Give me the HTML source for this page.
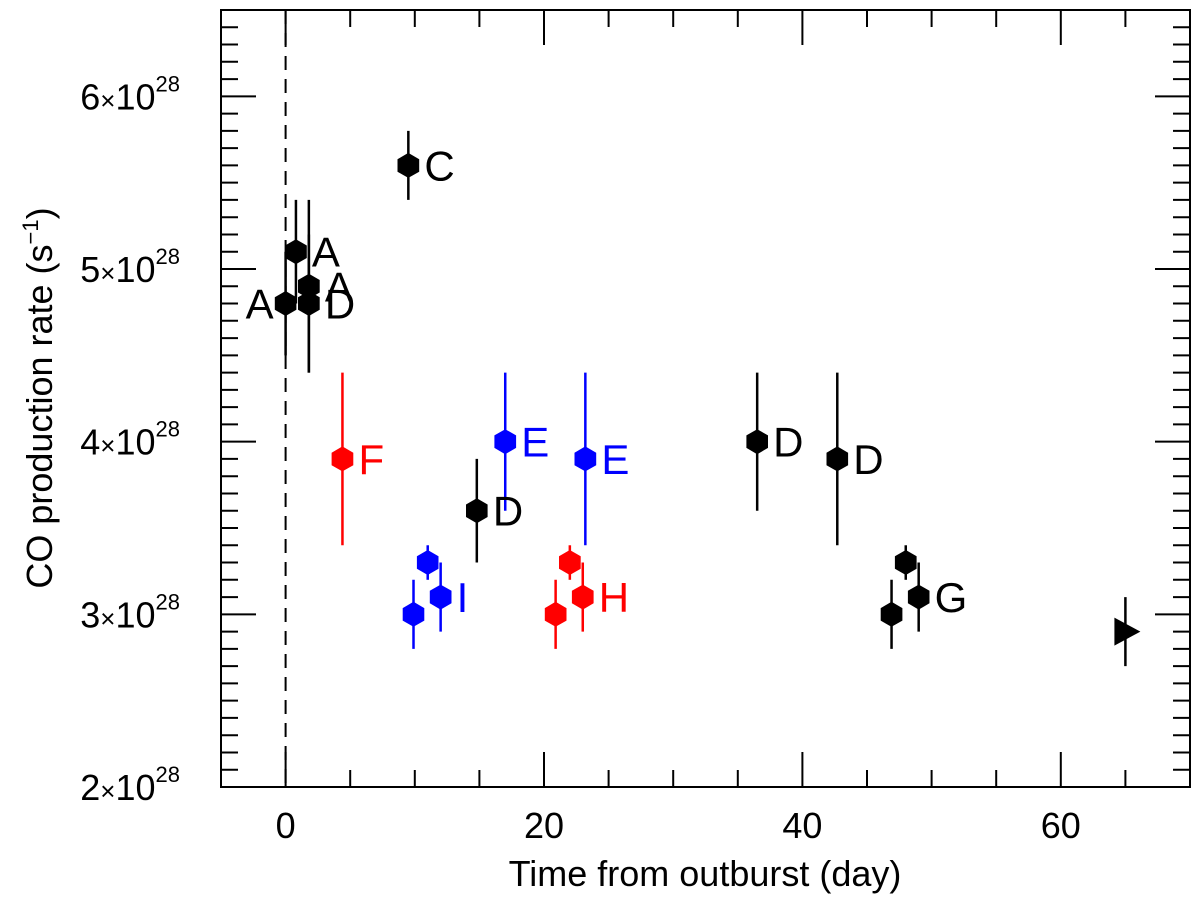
<!DOCTYPE html>
<html><head><meta charset="utf-8"><style>
body{margin:0;background:#fff}
svg{font-family:"Liberation Sans",sans-serif}
</style></head><body>
<svg id="c" width="1200" height="900"></svg>
<script>
const days=[0,0.8,1.8,1.8,9.5,4.4,17,23.2,14.8,11,9.9,12,22,20.9,23,36.5,42.7,48,46.9,49];
const rates=[4.8,5.1,4.9,4.8,5.6,3.9,4.0,3.9,3.6,3.3,3.0,3.1,3.3,3.0,3.1,4.0,3.9,3.3,3.0,3.1];
const errs=[0.3,0.3,0.5,0.4,0.2,0.5,0.4,0.5,0.3,0.1,0.2,0.2,0.1,0.2,0.2,0.4,0.5,0.1,0.2,0.2];
const labels=["A","A","A","D","C","F","E","E","D","","","I","","","H","D","D","","","G"];
const colors=["k","k","k","k","k","r","b","b","k","b","b","b","r","r","r","k","k","k","k","k"];
const labelSide=["left","right","right","right","right","right","right","right","right","","","right","","","right","right","right","","","right"];
const limitDay=[65], limitRate=[2.9], limitErr=[0.2];
const xTicks=[0,20,40,60];
const yTicks=[2,3,4,5,6];
const X0=221,X1=1190,Y0=10,Y1=787,xmin=-5,xmax=70,ymin=2,ymax=6.5;
const sx=v=>X0+(v-xmin)/(xmax-xmin)*(X1-X0);
const sy=v=>Y1-(v-ymin)/(ymax-ymin)*(Y1-Y0);
const col={k:"#000",r:"#f00",b:"#00f"};
const svg=document.getElementById('c');
const NS="http://www.w3.org/2000/svg";
function mk(t,a,txt){const e=document.createElementNS(NS,t);for(const k in a)e.setAttribute(k,a[k]);if(txt!==undefined)e.textContent=txt;svg.appendChild(e);return e;}
let e;
e=mk('rect',{x:X0,y:Y0,width:X1-X0,height:Y1-Y0,fill:'none',stroke:'#000','stroke-width':2});

e=mk('line',{x1:sx(0),x2:sx(0),y1:Y0,y2:Y1,stroke:'#000','stroke-width':2,'stroke-dasharray':'14,9'});

for(let d=-5;d<=70;d+=5){const maj=d%20===0;const L=maj?35:17;
 mk('line',{x1:sx(d),x2:sx(d),y1:Y1,y2:Y1-L,stroke:'#000','stroke-width':2});
 mk('line',{x1:sx(d),x2:sx(d),y1:Y0,y2:Y0+L,stroke:'#000','stroke-width':2});}
for(let i=20;i<=65;i++){const v=i/10;const maj=i%10===0;const L=maj?35:17;
 mk('line',{x1:X0,x2:X0+L,y1:sy(v),y2:sy(v),stroke:'#000','stroke-width':2});
 mk('line',{x1:X1,x2:X1-L,y1:sy(v),y2:sy(v),stroke:'#000','stroke-width':2});}
xTicks.forEach(t=>{e=mk('text',{x:sx(t),y:838,'font-size':36,'text-anchor':'middle'},String(t));
 });
yTicks.forEach(t=>{e=mk('text',{x:180,y:sy(t)+13,'font-size':36,'text-anchor':'end'});
 e.innerHTML=t+'<tspan font-size="26">×</tspan>10<tspan dy="-18" font-size="22">28</tspan>';
 });
e=mk('text',{x:705,y:886,'font-size':36,'text-anchor':'middle'},'Time from outburst (day)');

e=mk('text',{transform:'translate(52,398) rotate(-90)','font-size':36,'text-anchor':'middle'});
e.innerHTML='CO production rate (s<tspan dy="-14" font-size="22">−1</tspan><tspan dy="14">)</tspan>';

function hex(cx,cy,r){let p=[];for(let k=0;k<6;k++){const a=Math.PI/180*(60*k-90);p.push((cx+r*Math.cos(a)).toFixed(1)+','+(cy+r*Math.sin(a)).toFixed(1));}return p.join(' ');}
days.forEach((d,i)=>{const c=col[colors[i]];const x=sx(d),y=sy(rates[i]);
 e=mk('line',{x1:x,x2:x,y1:sy(rates[i]+errs[i]),y2:sy(rates[i]-errs[i]),stroke:c,'stroke-width':2.5});
 
 e=mk('polygon',{points:hex(x,y,12.5),fill:c});
 
 if(labels[i]){const left=labelSide[i]==='left';
  e=mk('text',{x:left?x-12:x+16,y:y+15,'font-size':42,fill:c,'text-anchor':left?'end':'start'},labels[i]);
  }
});
limitDay.forEach((d,i)=>{const x=sx(d),y=sy(limitRate[i]);
 e=mk('line',{x1:x,x2:x,y1:sy(limitRate[i]+limitErr[i]),y2:sy(limitRate[i]-limitErr[i]),stroke:'#000','stroke-width':2.5});
 
 e=mk('polygon',{points:`${x-11},${y-14} ${x+15},${y} ${x-11},${y+14}`,fill:'#000'});
 
});
</script>
</body></html>
